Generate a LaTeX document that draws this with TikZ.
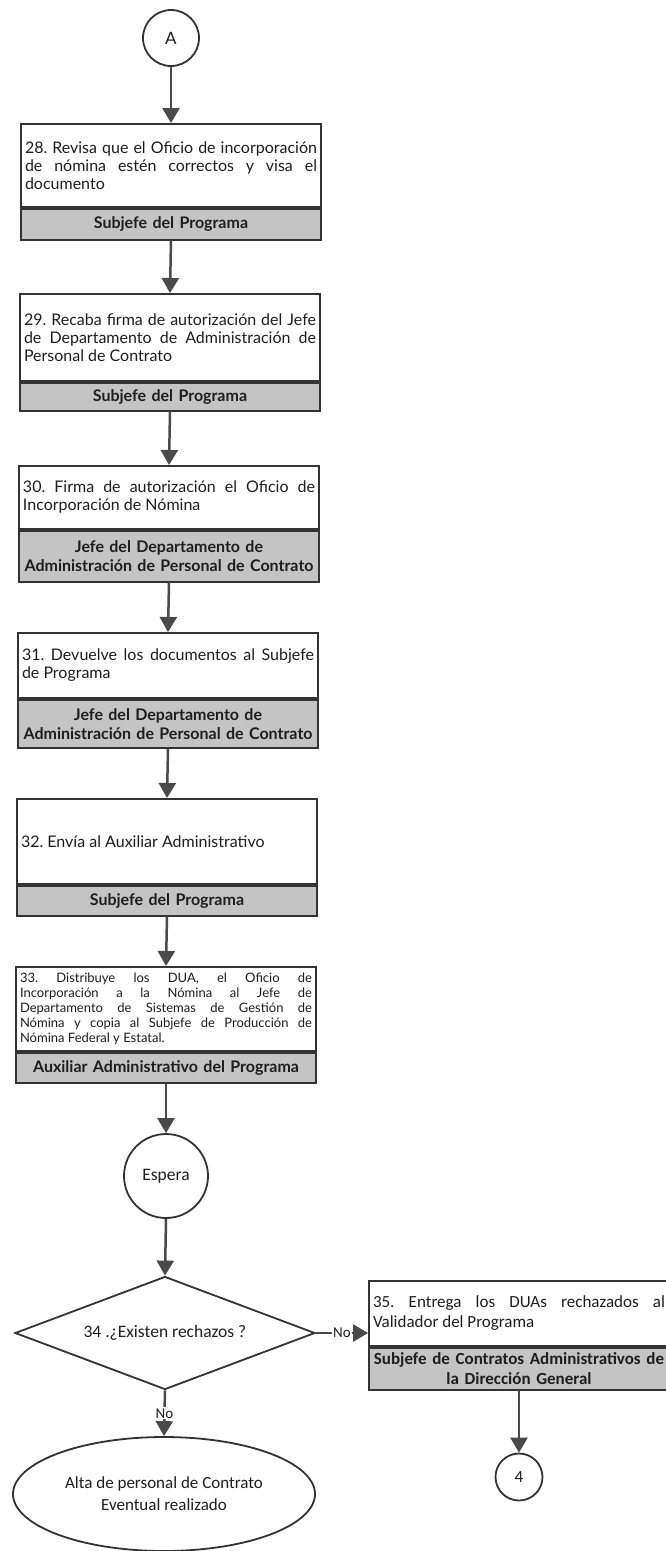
\documentclass[tikz,border=0pt]{standalone}
\usepackage{fontspec}
\setmainfont{Lato}
\newfontfamily\calibrifont{Carlito}
\usepackage{tikz}
\usetikzlibrary{arrows.meta}
\usetikzlibrary{shapes.geometric}
\usetikzlibrary{positioning}
\frenchspacing
\definecolor{flow_border}{HTML}{333333}
\definecolor{flow_line}{HTML}{4A4A4A}
\definecolor{flow_gray}{HTML}{C4C4C4}
\definecolor{flow_text}{HTML}{1E1E1E}
\tikzstyle{flow_task} = [rectangle, draw = flow_border, line width = 1.8pt, fill = white, minimum width = 300pt, text width = 292pt, inner xsep = 4pt, inner ysep = 2pt, align = justify, text = flow_text, font = \fontsize{16}{18}\selectfont]
\tikzstyle{flow_role} = [flow_task, fill = flow_gray, align = center, font = \fontsize{16}{19}\selectfont\bfseries]
\tikzstyle{flow_circle} = [circle, draw = flow_border, line width = 1.8pt, fill = white, inner sep = 0pt, text = flow_text, font = \fontsize{17}{20}\selectfont]
\tikzstyle{flow_link} = [draw = flow_line, line width = 2.5pt, -{Triangle[width = 17pt, length = 15pt]}]
\tikzstyle{flow_label} = [fill = white, inner sep = 1pt, text = flow_text, font = \calibrifont\fontsize{15}{17}\selectfont]

\begin{document}
\begin{tikzpicture}[x = 1pt, y = -1pt]
        \useasboundingbox (0, 0) rectangle (665, 1551);
        \node [style = {flow_circle}, minimum size = 56pt] (conn_a) at (171, 38) {A};
        \node [style = {flow_task}, minimum height = 83pt, anchor = north] (task_28) at (171, 123)
            {28. Revisa que el Oficio de incorporación\linebreak de nómina estén correctos y visa el\linebreak documento};
        \node [style = {flow_role}, minimum height = 31pt, below = 0pt of task_28] (role_28) {Subjefe del Programa};
        \node [style = {flow_task}, minimum height = 87pt, anchor = north] (task_29) at (170, 293)
            {29. Recaba firma de autorización del Jefe\linebreak de Departamento de Administración de\linebreak Personal de Contrato};
        \node [style = {flow_role}, minimum height = 28pt, below = 0pt of task_29] (role_29) {Subjefe del Programa};
        \node [style = {flow_task}, minimum height = 63pt, anchor = north] (task_30) at (169, 465)
            {30. Firma de autorización el Oficio de\linebreak Incorporación de Nómina};
        \node [style = {flow_role}, minimum height = 51pt, below = 0pt of task_30] (role_30) {Jefe del Departamento de\\Administración de Personal de Contrato};
        \node [style = {flow_task}, minimum height = 65pt, anchor = north] (task_31) at (168, 632)
            {31. Devuelve los documentos al Subjefe\linebreak de Programa};
        \node [style = {flow_role}, minimum height = 48pt, below = 0pt of task_31] (role_31) {Jefe del Departamento de\\Administración de Personal de Contrato};
        \node [style = {flow_task}, minimum height = 85pt, anchor = north] (task_32) at (167, 798)
            {32. Envía al Auxiliar Administrativo};
        \node [style = {flow_role}, minimum height = 30pt, below = 0pt of task_32] (role_32) {Subjefe del Programa};
        \node [style = {flow_task}, minimum height = 84pt, anchor = north, font = \fontsize{13}{15}\selectfont] (task_33) at (166, 966)
            {33. Distribuye los DUA, el Oficio de\linebreak Incorporación a la Nómina al Jefe de\linebreak Departamento de Sistemas de Gestión de\linebreak Nómina y copia al Subjefe de Producción de\linebreak Nómina Federal y Estatal.};
        \node [style = {flow_role}, minimum height = 30pt, below = 0pt of task_33] (role_33) {Auxiliar Administrativo del Programa};
        \node [style = {flow_circle}, minimum size = 84pt, font = \calibrifont\fontsize{17.5}{20}\selectfont] (wait) at (166, 1176) {Espera};
        \node [diamond, aspect = 2.65, draw = flow_border, line width = 1.8pt, minimum width = 300pt, minimum height = 113pt, inner sep = 0pt, text = flow_text, font = \calibrifont\fontsize{17.5}{20}\selectfont] (decision_34) at (165, 1333) {34 .¿Existen rechazos ?};
        \node [ellipse, draw = flow_border, line width = 1.8pt, minimum width = 302pt, minimum height = 114pt, align = center, text = flow_text, font = \calibrifont\fontsize{17}{22}\selectfont] (end_ok) at (164, 1494) {Alta de personal de Contrato\\Eventual realizado};
        \node [style = {flow_task}, minimum height = 65pt, anchor = north, font = \calibrifont\fontsize{17}{20}\selectfont] (task_35) at (519, 1280)
            {35. Entrega los DUAs rechazados al\linebreak Validador del Programa};
        \node [style = {flow_role}, minimum height = 42pt, below = 0pt of task_35, font = \calibrifont\fontsize{17}{20}\selectfont\bfseries] (role_35) {Subjefe de Contratos Administrativos de\\la Dirección General};
        \node [style = {flow_circle}, minimum size = 47pt, font = \calibrifont\fontsize{17}{20}\selectfont] (conn_4) at (519, 1477) {4};
        \draw [flow_link] (conn_a.south) -- (task_28.north);
        \draw [flow_link] (role_28.south) -- (task_29.north);
        \draw [flow_link] (role_29.south) -- (task_30.north);
        \draw [flow_link] (role_30.south) -- (task_31.north);
        \draw [flow_link] (role_31.south) -- (task_32.north);
        \draw [flow_link] (role_32.south) -- (task_33.north);
        \draw [flow_link] (role_33.south) -- (wait.north);
        \draw [flow_link] (wait.south) -- (decision_34.north);
        \draw [flow_link] (decision_34.east) -- node [style = {flow_label}] {No} (decision_34.east -| task_35.west);
        \draw [flow_link] (decision_34.south) -- node [style = {flow_label}] {No} (end_ok.north);
        \draw [flow_link] (role_35.south) -- (conn_4.north);
    \end{tikzpicture}
\end{document}
